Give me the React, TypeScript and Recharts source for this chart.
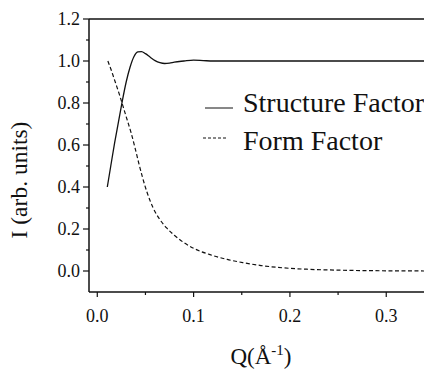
import React from 'react';
import { LineChart, Line, XAxis, YAxis, ReferenceLine, Legend } from 'recharts';

// Structure factor S(Q)
const structureQ = [0.0104, 0.014, 0.018, 0.022, 0.026, 0.03, 0.034, 0.038, 0.042, 0.046, 0.05, 0.055, 0.06, 0.065, 0.07, 0.075, 0.08, 0.09, 0.1, 0.11, 0.12, 0.15, 0.2, 0.25, 0.3, 0.35];
const structureI = [0.4, 0.5, 0.61, 0.71, 0.81, 0.9, 0.97, 1.02, 1.043, 1.045, 1.035, 1.018, 1.002, 0.992, 0.988, 0.99, 0.995, 1.0, 1.004, 1.002, 1.0, 1.0, 1.0, 1.0, 1.0, 1.0];

// Form factor P(Q)
const formQ = [0.011, 0.015, 0.019, 0.023, 0.027, 0.031, 0.035, 0.039, 0.043, 0.047, 0.052, 0.058, 0.065, 0.072, 0.08, 0.089, 0.1, 0.117, 0.135, 0.151, 0.17, 0.193, 0.22, 0.25, 0.3, 0.35];
const formI = [1.0, 0.95, 0.895, 0.84, 0.78, 0.72, 0.66, 0.59, 0.515, 0.445, 0.37, 0.3, 0.245, 0.205, 0.17, 0.138, 0.108, 0.078, 0.055, 0.04, 0.026, 0.015, 0.008, 0.004, 0.001, 0.0];

const xTicks = [0, 0.05, 0.1, 0.15, 0.2, 0.25, 0.3];
const yTicks = [0, 0.1, 0.2, 0.3, 0.4, 0.5, 0.6, 0.7, 0.8, 0.9, 1.0, 1.1, 1.2];

const seriesNames = ['Structure Factor', 'Form Factor'];

const structureData = structureQ.map((q, i) => ({ q, i: structureI[i] }));
const formData = formQ.map((q, i) => ({ q, i: formI[i] }));

const INK = '#111';
const FAMILY = "'Liberation Serif'";

const XTick = (props: any) => {
  const { x, y, payload } = props;
  const v = payload.value as number;
  const major = Math.round(v * 100) % 10 === 0;
  return (
    <g>
      <line x1={x} x2={x} y1={y} y2={y + (major ? 5 : 3)} stroke={INK} strokeWidth={1.2} />
      {major && (
        <text x={x} y={y + 30} textAnchor="middle" fontSize={18} fill={INK} style={{ fontFamily: FAMILY }}>
          {v.toFixed(1)}
        </text>
      )}
    </g>
  );
};

const YTick = (props: any) => {
  const { x, y, payload } = props;
  const v = payload.value as number;
  const major = Math.round(v * 10) % 2 === 0;
  return (
    <g>
      <line x1={x} x2={x - (major ? 6 : 3)} y1={y} y2={y} stroke={INK} strokeWidth={1.2} />
      {major && (
        <text x={x - 9} y={y + 6} textAnchor="end" fontSize={18} fill={INK} style={{ fontFamily: FAMILY }}>
          {v.toFixed(1)}
        </text>
      )}
    </g>
  );
};

const YTitle = () => (
  <text
    transform="translate(19,172) rotate(-90)"
    textAnchor="middle"
    fontSize={23.5}
    fill={INK}
    style={{ fontFamily: FAMILY }}
  >
    I (arb. units)
  </text>
);

const XTitle = () => (
  <text x={253} y={356} textAnchor="middle" fontSize={23} fill={INK} style={{ fontFamily: FAMILY }}>
    Q(Å
    <tspan fontSize={15} dy={-9}>-1</tspan>
    <tspan dy={9}>)</tspan>
  </text>
);

const LegendBox = (props: any) => {
  const { payload = [] } = props;
  const ordered = seriesNames
    .map((name) => payload.find((e: any) => e.value === name))
    .filter(Boolean);
  return (
    <svg width={244} height={80}>
      {ordered.map((entry: any, idx: number) => {
        const dashed = idx === 1;
        const ly = idx === 0 ? 20 : 50;
        const ty = idx === 0 ? 24 : 62;
        return (
          <g key={entry.value}>
            <line
              x1={dashed ? 15 : 17}
              x2={dashed ? 39 : 45}
              y1={ly}
              y2={ly}
              stroke={INK}
              strokeWidth={1}
              strokeDasharray={dashed ? '3 2' : undefined}
            />
            <text x={55} y={ty} fontSize={28} fill={INK} style={{ fontFamily: FAMILY }}>
              {entry.value}
            </text>
          </g>
        );
      })}
    </svg>
  );
};

export default function App() {
  return (
    <div style={{ position: 'relative' }}>
      {/* loads the serif face on first paint so the chart text can use it */}
      <svg
        aria-hidden="true"
        width={20}
        height={20}
        style={{ position: 'absolute', left: 0, top: 0, opacity: 0, pointerEvents: 'none' }}
      >
        <text x={2} y={16} fontSize={16} style={{ fontFamily: FAMILY }}>
          I
        </text>
      </svg>
      <LineChart
        width={424}
        height={361}
        margin={{ top: 11, right: 0, bottom: 0, left: 0 }}
      >
        <XAxis
          dataKey="q"
          type="number"
          domain={[-0.0086, 0.3475]}
          allowDataOverflow
          ticks={xTicks}
          interval={0}
          tickSize={0}
          tickMargin={0}
          tickLine={false}
          tick={<XTick />}
          height={77}
          axisLine={{ stroke: INK, strokeWidth: 1.5 }}
          label={<XTitle />}
        />
        <YAxis
          type="number"
          domain={[-0.1, 1.2]}
          allowDataOverflow
          ticks={yTicks}
          interval={0}
          tickSize={0}
          tickMargin={0}
          tickLine={false}
          tick={<YTick />}
          width={81}
          axisLine={{ stroke: INK, strokeWidth: 1.5 }}
          label={<YTitle />}
        />
        <ReferenceLine y={1.2} stroke={INK} strokeWidth={1.5} ifOverflow="visible" />
        <Legend
          layout="horizontal"
          align="center"
          verticalAlign="middle"
          content={<LegendBox />}
          wrapperStyle={{ left: 180, top: 80, width: 244, height: 80 }}
        />
        <Line
          data={structureData}
          dataKey="i"
          name={seriesNames[0]}
          type="monotone"
          stroke={INK}
          strokeWidth={1.3}
          dot={false}
          isAnimationActive={false}
        />
        <Line
          data={formData}
          dataKey="i"
          name={seriesNames[1]}
          type="monotone"
          stroke={INK}
          strokeWidth={1.2}
          strokeDasharray="4 2.5"
          dot={false}
          isAnimationActive={false}
        />
      </LineChart>
    </div>
  );
}
